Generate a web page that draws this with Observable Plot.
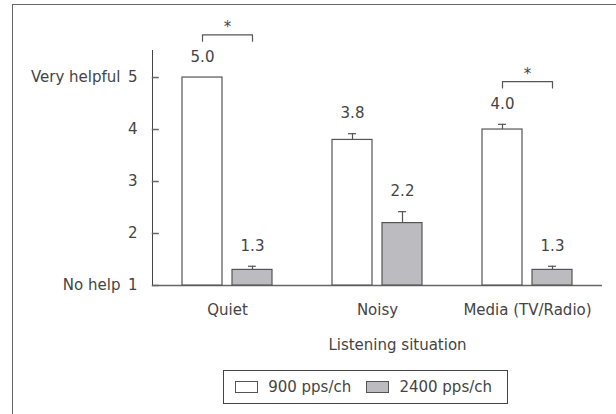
<!DOCTYPE html>
<html>
<head>
<meta charset="utf-8">
<script src="https://cdn.jsdelivr.net/npm/d3@7"></script>
<script src="https://cdn.jsdelivr.net/npm/@observablehq/plot@0.6"></script>
<style>
  html, body { margin: 0; padding: 0; background: #fff; }
  #wrap { position: relative; width: 616px; height: 414px; overflow: hidden; font-family: "DejaVu Sans", sans-serif; color: #444; }
  #frame { position: absolute; left: 12px; top: 4px; width: 620px; height: 420px; border-left: 1.5px solid #666; border-top: 1.5px solid #666; box-sizing: border-box; }
  #chart { position: absolute; left: 0; top: 0; }
  #legend { position: absolute; left: 223px; top: 370px; width: 285px; height: 34px; box-sizing: border-box; border: 1px solid #444; display: flex; align-items: center; padding-left: 11px; font-size: 15px; }
  .sw { width: 24px; height: 12px; box-sizing: border-box; border: 1px solid #555; display: inline-block; }
  .lab { margin-left: 10px; margin-right: 15px; white-space: nowrap; }
</style>
</head>
<body>
<div id="wrap">
  <div id="frame"></div>
  <div id="chart"></div>
  <div id="legend"></div>
</div>
<script>
// ---- data ----
const situations = ["Quiet", "Noisy", "Media (TV/Radio)"];
const series = ["900 pps/ch", "2400 pps/ch"];
const mean900 = [5.0, 3.8, 4.0];
const mean2400 = [1.3, 2.2, 1.3];
const se900 = [0.0, 0.12, 0.10];
const se2400 = [0.07, 0.22, 0.07];
const significant = ["Quiet", "Media (TV/Radio)"];
const yTicks = [1, 2, 3, 4, 5];
const yTickNames = ["No help", "", "", "", "Very helpful"];
const xTitle = "Listening situation";
const colors = ["#ffffff", "#bcbcc0"];

// ---- build table ----
const data = [];
situations.forEach((s, i) => {
  data.push({situation: s, series: series[0], mean: mean900[i], se: se900[i]});
  data.push({situation: s, series: series[1], mean: mean2400[i], se: se2400[i]});
});
const errData = data.filter(d => d.se > 0);

// significance brackets (offsets in y units: gap above highest bar, leg length)
const gapU = 0.82, legU = 0.12;
const brackets = [];
const stars = [];
significant.forEach(s => {
  const top = d3.max(data.filter(d => d.situation === s), d => d.mean + d.se);
  const by = top + gapU;
  brackets.push({situation: s, series: series[0], y: by - legU});
  brackets.push({situation: s, series: series[0], y: by});
  brackets.push({situation: s, series: series[1], y: by});
  brackets.push({situation: s, series: series[1], y: by - legU});
  stars.push({situation: s, y: by});
});

// inward y-axis ticks, drawn only in the first facet (shifted from the first band to the axis line)
const tickData = yTicks.map(v => ({situation: situations[0], series: series[0], v}));

const stroke = "#555";
const txt = "#444";

const chart = Plot.plot({
  width: 616,
  height: 362,
  marginLeft: 152,
  marginRight: 14,
  marginTop: 50,
  marginBottom: 77,
  style: {fontFamily: "DejaVu Sans, sans-serif", fontSize: "15px", color: txt, background: "transparent", overflow: "visible"},
  fx: {domain: situations, padding: 0, label: null, tickSize: 0, tickPadding: 19, axis: "bottom"},
  x: {domain: series, axis: null, paddingInner: 0.21, paddingOuter: 0.605},
  y: {domain: [1, 5.52], range: [285, 50], ticks: yTicks, tickSize: 0, tickPadding: 15, line: true, label: null,
      tickFormat: (d) => { const n = yTickNames[yTicks.indexOf(d)]; return n ? n + "\u2002" + d : String(d); }},
  color: {domain: series, range: colors},
  marks: [
    Plot.ruleY([1], {stroke: "#666", strokeWidth: 1.5}),
    Plot.tickY(tickData, {fx: "situation", x: "series", y: "v", insetLeft: 0, insetRight: 33, dx: -30.25, stroke: "#666", strokeWidth: 1.5}),
    Plot.barY(data, {fx: "situation", x: "series", y1: 1, y2: "mean", fill: "series", stroke: stroke, strokeWidth: 1.2}),
    Plot.ruleX(errData, {fx: "situation", x: "series", y1: "mean", y2: d => d.mean + d.se, stroke: stroke, strokeWidth: 1.2}),
    Plot.tickY(errData, {fx: "situation", x: "series", y: d => d.mean + d.se, stroke: stroke, strokeWidth: 1.2, inset: 16}),
    Plot.text(data, {fx: "situation", x: "series", y: d => d.mean + d.se, text: d => d.mean.toFixed(1), dy: -20, fontSize: 15, fill: txt}),
    Plot.line(brackets, {fx: "situation", x: "series", y: "y", z: "situation", stroke: stroke, strokeWidth: 1.2}),
    Plot.text(stars, {fx: "situation", y: "y", text: () => "*", dy: -8, fontSize: 15, fill: txt}),
    Plot.text([{situation: situations[1]}], {fx: "situation", frameAnchor: "bottom", lineAnchor: "middle", dy: 60, dx: 20, text: () => xTitle, fontSize: 15, fill: txt})
  ]
});
document.getElementById("chart").appendChild(chart);

// legend
const lg = document.getElementById("legend");
series.forEach((s, i) => {
  const sw = document.createElement("span");
  sw.className = "sw";
  sw.style.background = colors[i];
  lg.appendChild(sw);
  const t = document.createElement("span");
  t.className = "lab";
  t.textContent = s;
  lg.appendChild(t);
});
</script>
</body>
</html>
